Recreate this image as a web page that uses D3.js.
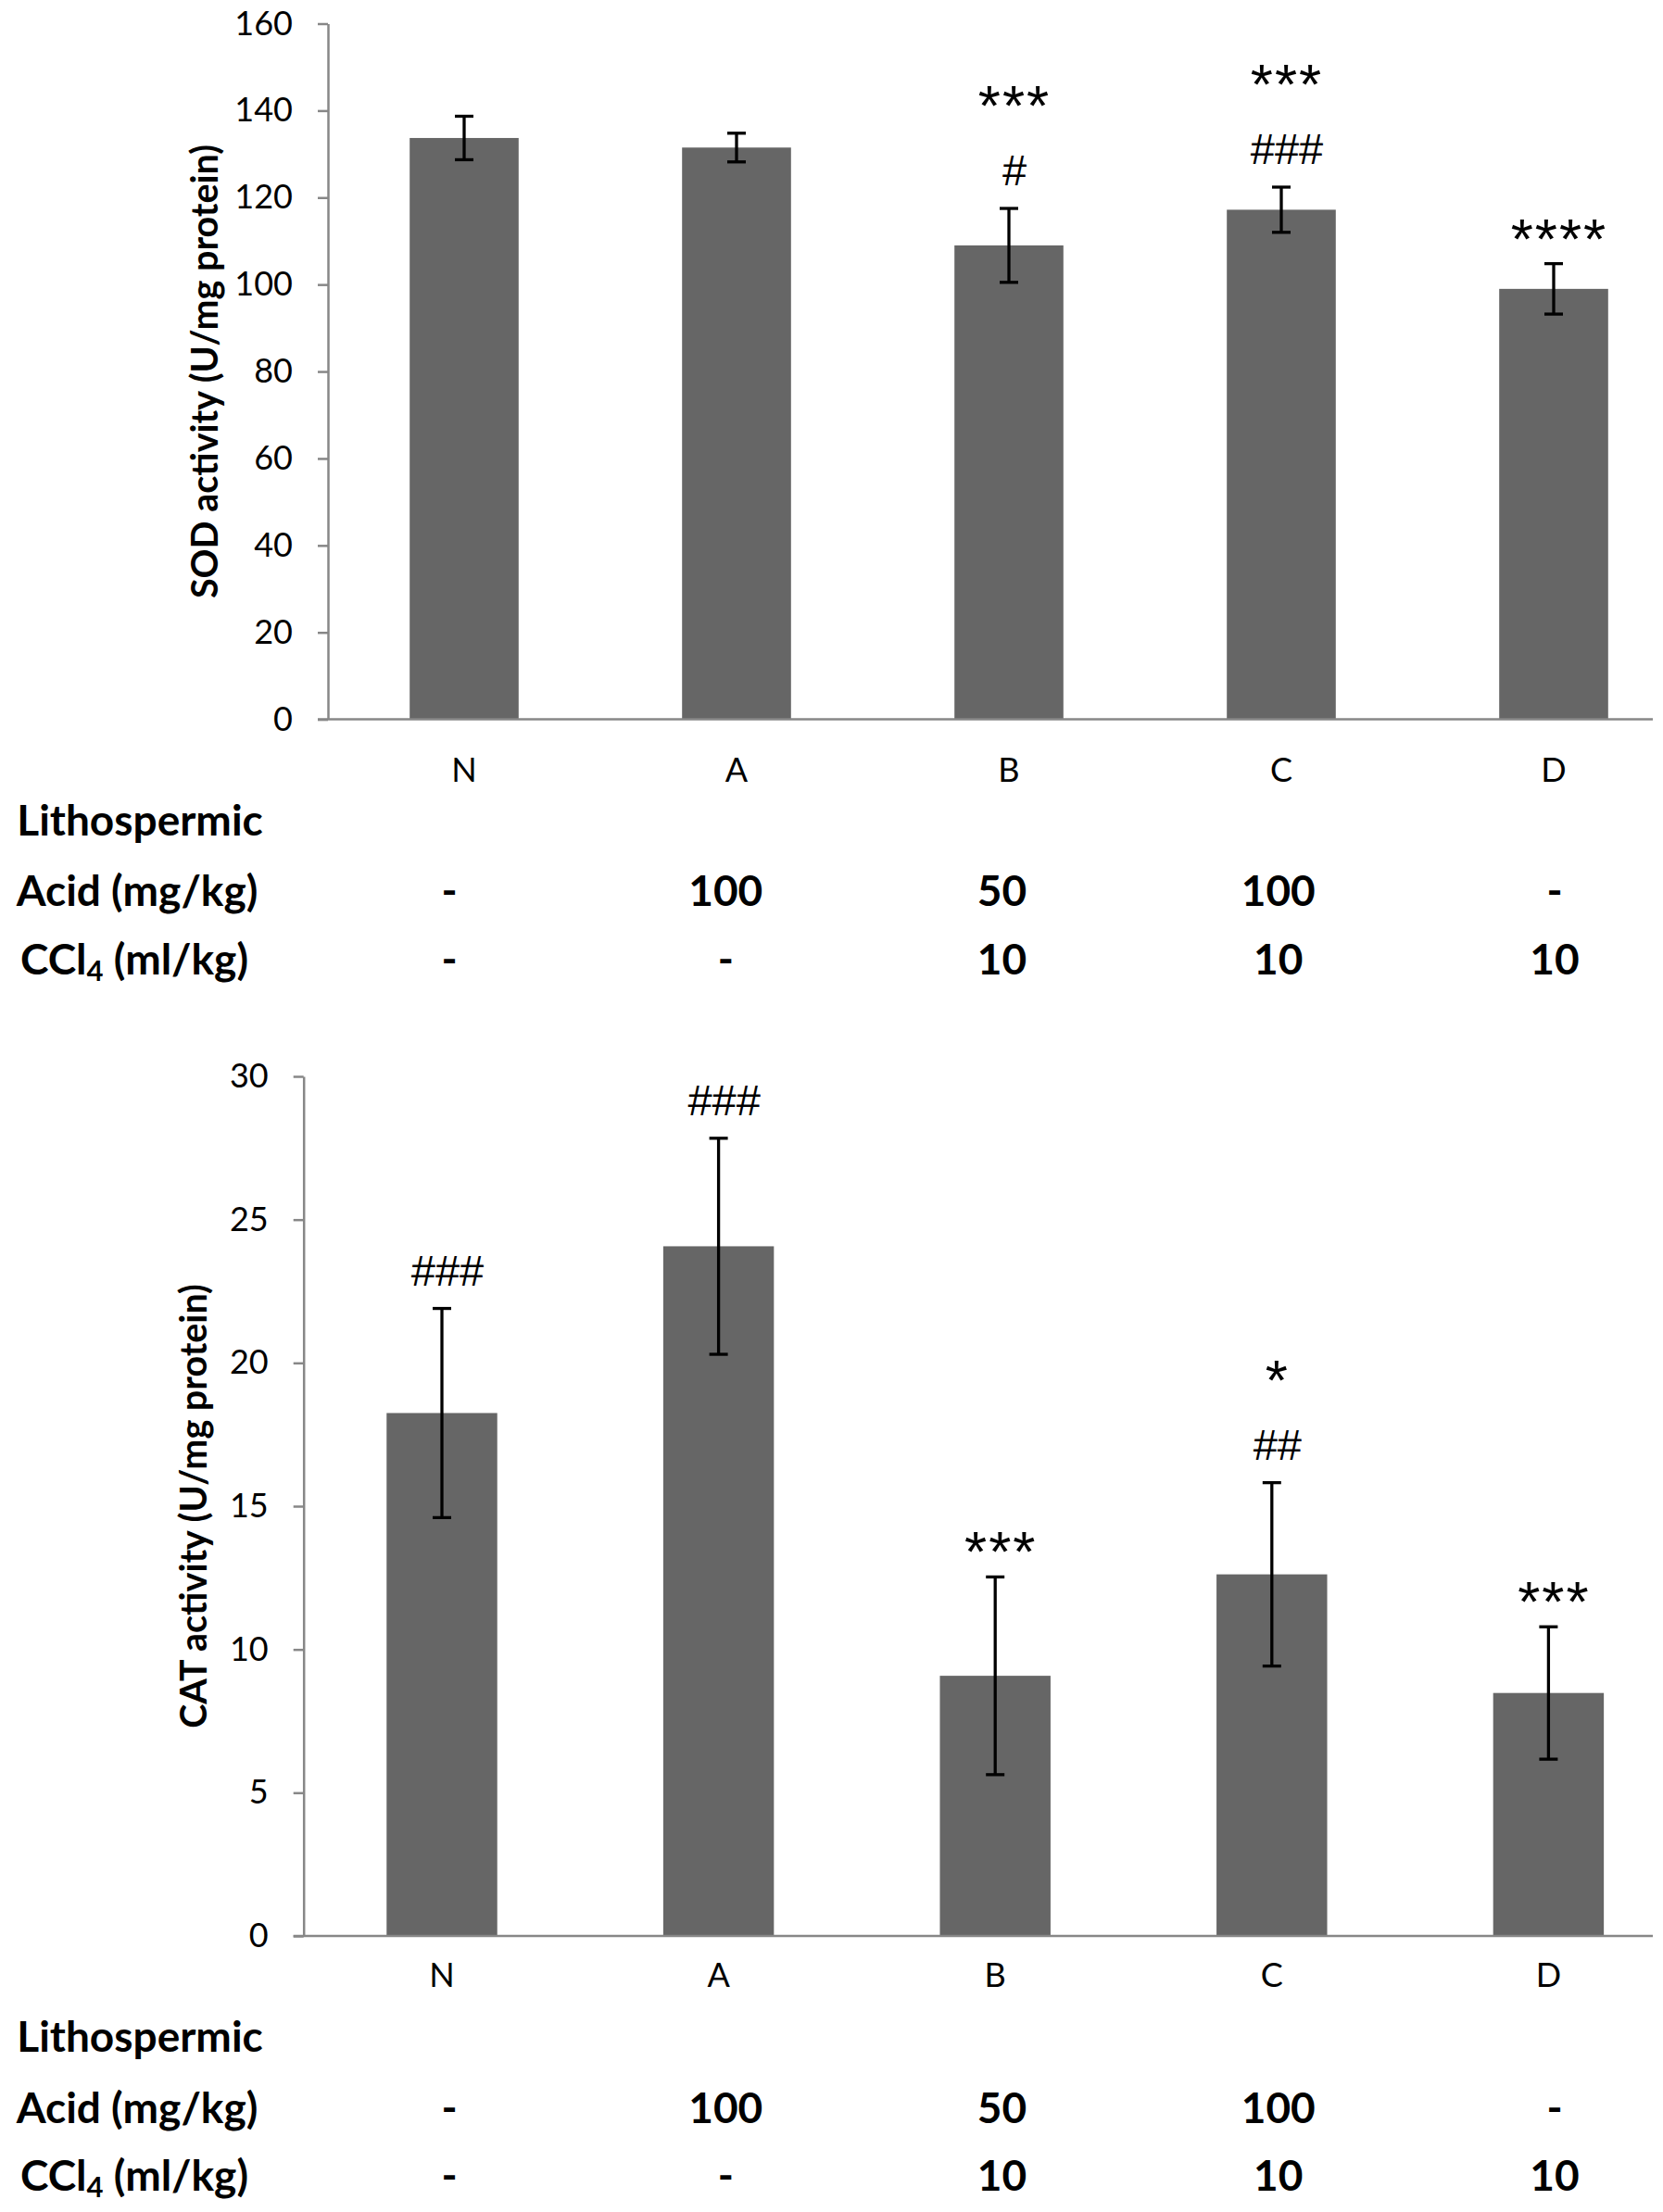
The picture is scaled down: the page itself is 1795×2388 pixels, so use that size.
<!DOCTYPE html>
<html lang="en">
<head>
  <meta charset="utf-8">
  <title>SOD and CAT activity</title>
  <script src="https://d3js.org/d3.v7.min.js"></script>
  <style>
    body { margin: 0; background: #fff; }
    text { font-family: Lato, "Open Sans", sans-serif; fill: #000; }
    .axis path, .axis line { stroke: #878787; stroke-width: 2.5; }
    .axis text { font-size: 36px; }
    .tbl { font-size: 46px; font-weight: bold; }
    .ytitle { font-size: 39.5px; font-weight: bold; }
    .mark { font-family: "Liberation Sans", Arial, sans-serif; }
  </style>
</head>
<body>
<div id="container"></div>
<script>
  // data
  var groups = ["N", "A", "B", "C", "D"];

  var sodMean = [133.7, 131.5, 109.0, 117.2, 99.0];
  var sodErr = [5.0, 3.3, 8.5, 5.2, 5.8];
  var sodMarks = [[], [], ["#", "***"], ["###", "***"], ["****"]];
  var sodTicks = [0, 20, 40, 60, 80, 100, 120, 140, 160];

  var catMean = [18.25, 24.07, 9.08, 12.62, 8.48];
  var catErr = [3.65, 3.77, 3.45, 3.2, 2.31];
  var catMarks = [["###"], ["###"], ["***"], ["##", "*"], ["***"]];
  var catTicks = [0, 5, 10, 15, 20, 25, 30];

  var acidDose = ["-", "100", "50", "100", "-"];
  var ccl4Dose = ["-", "-", "10", "10", "10"];

  var w = 1795, h = 2388;

  var svg = d3.select("#container")
    .append("svg")
    .attr("width", w)
    .attr("height", h)
    .attr("viewBox", "0 0 " + w + " " + h);

  svg.append("rect").attr("width", w).attr("height", h).attr("fill", "#fff");

  // columns of the dose table (same in both panels)
  var col = d3.scalePoint().domain(groups).range([485, 1678]);

  function panel(p) {
    var g = svg.append("g");

    var x = d3.scaleBand()
      .domain(groups)
      .range([p.left, p.left + 5 * p.band])
      .paddingInner(0.6)
      .paddingOuter(0.3);

    var y = d3.scaleLinear()
      .domain([0, p.max])
      .range([p.bottom, p.top]);

    var rows = groups.map(function(k, i) {
      return { k: k, m: p.mean[i], e: p.err[i], marks: p.marks[i] };
    });

    // bars
    g.selectAll("rect.bar")
      .data(rows)
      .enter()
      .append("rect")
      .attr("class", "bar")
      .attr("x", function(d) { return x(d.k); })
      .attr("width", x.bandwidth())
      .attr("y", function(d) { return y(d.m); })
      .attr("height", function(d) { return y(0) - y(d.m); })
      .attr("fill", "#666666");

    // y axis
    g.append("g")
      .attr("class", "axis")
      .attr("transform", "translate(" + p.left + ",0)")
      .call(d3.axisLeft(y).tickValues(p.ticks).tickSize(11).tickSizeOuter(0).tickPadding(27));

    // x axis line
    g.append("line")
      .attr("x1", p.left - 11)
      .attr("x2", p.axisEnd)
      .attr("y1", y(0))
      .attr("y2", y(0))
      .attr("stroke", "#878787")
      .attr("stroke-width", 2.5);

    // category labels
    var xa = g.append("g")
      .attr("class", "axis")
      .attr("transform", "translate(0," + y(0) + ")")
      .call(d3.axisBottom(x).tickSize(0).tickPadding(p.xPad));
    xa.select(".domain").remove();

    // error bars
    var eb = g.selectAll("g.err")
      .data(rows)
      .enter()
      .append("g")
      .attr("class", "err")
      .attr("stroke", "#000")
      .attr("stroke-width", 3.3);

    eb.append("line")
      .attr("x1", function(d) { return x(d.k) + x.bandwidth() / 2; })
      .attr("x2", function(d) { return x(d.k) + x.bandwidth() / 2; })
      .attr("y1", function(d) { return y(d.m + d.e); })
      .attr("y2", function(d) { return y(d.m - d.e); });

    [1, -1].forEach(function(s) {
      eb.append("line")
        .attr("x1", function(d) { return x(d.k) + x.bandwidth() / 2 - 10; })
        .attr("x2", function(d) { return x(d.k) + x.bandwidth() / 2 + 10; })
        .attr("y1", function(d) { return y(d.m + s * d.e); })
        .attr("y2", function(d) { return y(d.m + s * d.e); });
    });

    // significance marks, stacked above the error bar
    rows.forEach(function(d) {
      d.marks.forEach(function(t, i) {
        var cy = y(d.m + d.e) - 41 - i * 84;
        var star = t.charAt(0) === "*";
        g.append("text")
          .attr("class", "mark")
          .attr("x", x(d.k) + x.bandwidth() / 2 + 6)
          .attr("y", cy + (star ? 35 : 16))
          .attr("text-anchor", "middle")
          .style("font-size", star ? "62px" : "47px")
          .style("letter-spacing", star ? "2px" : "0px")
          .text(t);
      });
    });

    // y title
    g.append("text")
      .attr("class", "ytitle")
      .attr("transform", "translate(" + p.titleX + "," + ((p.top + p.bottom) / 2) + ") rotate(-90)")
      .attr("text-anchor", "middle")
      .text(p.title);

    // dose table
    var b = y(0);
    g.append("text").attr("class", "tbl").attr("x", 151).attr("y", b + 125)
      .attr("text-anchor", "middle").text("Lithospermic");
    g.append("text").attr("class", "tbl").attr("x", 148).attr("y", b + 201.5)
      .attr("text-anchor", "middle").text("Acid (mg/kg)");
    var cc = g.append("text").attr("class", "tbl").attr("x", 145).attr("y", b + 275)
      .attr("text-anchor", "middle");
    cc.append("tspan").text("CCl");
    cc.append("tspan").attr("dy", 7).style("font-size", "31px").text("4");
    cc.append("tspan").attr("dy", -7).text(" (ml/kg)");

    g.selectAll("text.acid")
      .data(acidDose)
      .enter()
      .append("text")
      .attr("class", "tbl acid")
      .attr("x", function(d, i) { return col(groups[i]); })
      .attr("y", b + 201.5)
      .attr("text-anchor", "middle")
      .text(function(d) { return d; });

    g.selectAll("text.ccl4")
      .data(ccl4Dose)
      .enter()
      .append("text")
      .attr("class", "tbl ccl4")
      .attr("x", function(d, i) { return col(groups[i]); })
      .attr("y", b + 275)
      .attr("text-anchor", "middle")
      .text(function(d) { return d; });
  }

  panel({
    mean: sodMean, err: sodErr, marks: sodMarks, ticks: sodTicks, max: 160,
    left: 354, band: 294, top: 25.5, bottom: 776.6, axisEnd: 1784,
    xPad: 42, titleX: 235, title: "SOD activity (U/mg protein)"
  });

  panel({
    mean: catMean, err: catErr, marks: catMarks, ticks: catTicks, max: 30,
    left: 327.7, band: 298.6, top: 1162, bottom: 2090, axisEnd: 1784,
    xPad: 29.5, titleX: 223, title: "CAT activity (U/mg protein)"
  });
</script>
</body>
</html>
